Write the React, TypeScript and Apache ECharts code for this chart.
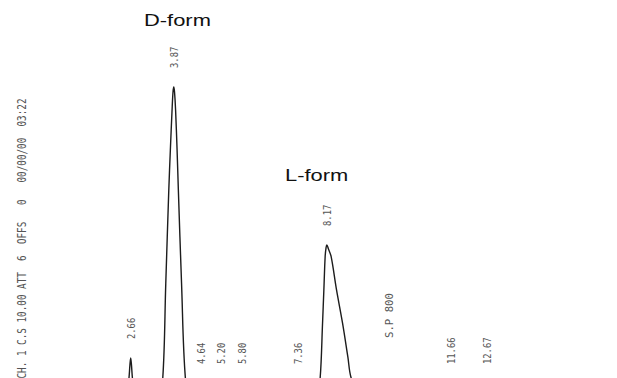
import { useEffect, useRef } from "react";
import * as echarts from "echarts";

// Detector trace: retention time (min) and signal (arbitrary units)
const traceTime = [
  0, 2.562, 2.612, 2.638, 2.66, 2.682, 2.708, 2.758,
  3.31, 3.45, 3.561, 3.645, 3.73, 3.774, 3.822, 3.848, 3.87, 3.892, 3.921, 3.963, 3.999, 4.089, 4.196, 4.319, 4.488,
  7.805, 7.903, 7.982, 8.049, 8.086, 8.122, 8.148, 8.17, 8.212, 8.291, 8.442, 8.611, 8.76, 8.853, 9.013, 9.237, 9.574,
  16,
];
const traceSignal = [
  0, 0, 4, 7.4, 9.3, 7.4, 4, 0,
  0, 0.6, 4, 28.9, 53.7, 64.3, 74.9, 79.6, 81, 79.6, 74.9, 64.3, 53.7, 28.9, 4, 1, 0,
  0, 0.6, 4, 18.5, 27.3, 36.1, 38.5, 39.2, 38.2, 36.1, 27.3, 18.5, 9.6, 4, 1.8, 0.6, 0,
  0,
];

// Printed retention-time marks
const peakTimes = [2.66, 3.87, 4.64, 5.2, 5.8, 7.36, 8.17, 11.66, 12.67];
const peakLabels = ["2.66", "3.87", "4.64", "5.20", "5.80", "7.36", "8.17", "11.66", "12.67"];

// Chart-speed event
const eventTimes = [9.93];
const eventLabels = ["S.P 800"];

// Printer header (vertical, along the left edge)
const headerTokens = ["CH. 1", "C.S", "10.00", "ATT", "6", "OFFS", "0", "00/00/00", "03:22"];
const headerColumns = [0, 6, 10, 16, 21, 24, 31, 35, 45];

// Peak annotations
const annotationTexts = ["D-form", "L-form"];

export default function App() {
  const ref = useRef<HTMLDivElement>(null);

  useEffect(() => {
    if (!ref.current) return;
    const chart = echarts.init(ref.current, null, { renderer: "svg" });
    chart.setOption({
      animation: false,
      backgroundColor: "#ffffff",
      grid: { left: 36, top: 0, width: 569.6, height: 378 },
      xAxis: { type: "value", min: 0, max: 16, show: false },
      yAxis: { type: "value", min: 4, max: 104, show: false },
      series: [
        {
          type: "line",
          data: traceTime.map((t, i) => [t, traceSignal[i]]),
          symbol: "none",
          smooth: 0.35,
          clip: true,
          silent: true,
          lineStyle: { color: "#1c1c1c", width: 1.4 },
        },
      ],
    });

    const toPx = (t: number, v: number) =>
      chart.convertToPixel({ gridIndex: 0 }, [t, v]) as number[];

    const monoLabel = (text: string, x: number, bottom: number, size: number, sx: number) => ({
      type: "text",
      x,
      y: bottom,
      rotation: Math.PI / 2,
      scaleX: sx,
      silent: true,
      style: {
        text,
        fontSize: size,
        fontFamily: "DejaVu Sans Mono",
        fill: "#555",
        align: "left",
        verticalAlign: "middle",
      },
    });

    const graphics: any[] = [];

    peakTimes.forEach((t, i) => {
      let vmax = 0;
      traceTime.forEach((tt, j) => {
        if (Math.abs(tt - t) < 0.03) vmax = Math.max(vmax, traceSignal[j]);
      });
      const [x, py] = toPx(t, vmax);
      const bottom = Math.min(py - 19, 364);
      graphics.push(monoLabel(peakLabels[i], x, bottom, 11, 0.8));
    });

    eventTimes.forEach((t, i) => {
      const [x] = toPx(t, 0);
      graphics.push(monoLabel(eventLabels[i], x, 338, 11, 0.97));
    });

    headerTokens.forEach((tok, i) => {
      graphics.push(monoLabel(tok, 22, 378.5 - headerColumns[i] * 5.6, 12, 0.776));
    });

    const titlePos = [
      [144, 21],
      [285, 176],
    ];
    annotationTexts.forEach((txt, i) => {
      graphics.push({
        type: "text",
        x: titlePos[i][0],
        y: titlePos[i][1],
        scaleX: 1.37,
        silent: true,
        style: {
          text: txt,
          fontSize: 16,
          fontFamily: "Liberation Sans, Arial, sans-serif",
          fill: "#111",
          align: "left",
          verticalAlign: "middle",
        },
      });
    });

    chart.setOption({ graphic: graphics });

    return () => chart.dispose();
  }, []);

  return (
    <div
      ref={ref}
      style={{ position: "fixed", left: 0, top: 0, width: 617, height: 378, background: "#fff" }}
    />
  );
}
